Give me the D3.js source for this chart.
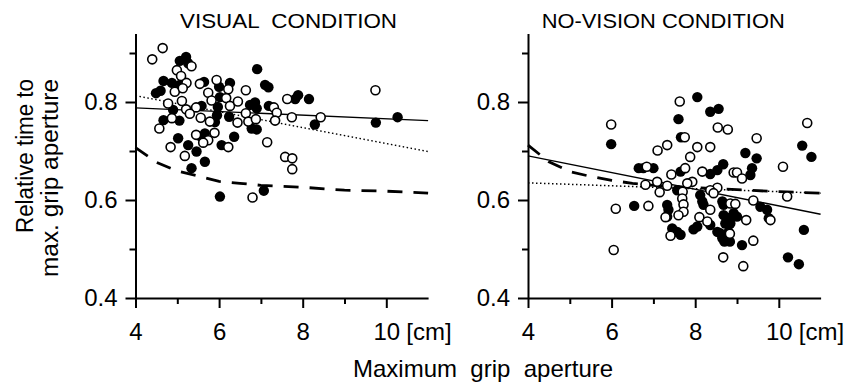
<!DOCTYPE html>
<html>
<head>
<meta charset="utf-8">
<script src="https://cdn.jsdelivr.net/npm/d3@7"></script>
<style>
  body { margin: 0; background: #fff; }
  svg { font-family: 'Liberation Sans', Arial, sans-serif; }
  text { white-space: pre; }
</style>
</head>
<body>
<svg id="chart" width="851" height="382"></svg>
<script>
// values: [aperture cm, relative time]
const visualOpen = [
  [4.65, 0.910], [4.40, 0.887], [4.99, 0.865], [5.34, 0.873], [5.09, 0.853], [5.22, 0.839],
  [4.94, 0.821], [5.13, 0.828], [5.54, 0.837], [5.74, 0.819], [5.94, 0.845], [5.82, 0.803],
  [5.11, 0.802], [4.78, 0.797], [5.21, 0.785], [5.45, 0.789], [5.30, 0.776], [5.56, 0.768],
  [4.87, 0.767], [4.57, 0.746], [5.78, 0.760], [5.45, 0.733], [5.89, 0.737], [5.74, 0.722],
  [5.62, 0.717], [4.84, 0.708], [5.18, 0.690], [6.22, 0.708], [6.22, 0.826], [6.17, 0.808],
  [6.26, 0.792], [6.45, 0.801], [6.64, 0.824], [6.44, 0.758], [6.64, 0.777], [6.70, 0.760],
  [6.88, 0.765], [7.15, 0.718], [7.31, 0.789], [7.38, 0.778], [7.34, 0.762], [7.63, 0.806],
  [7.74, 0.769], [8.43, 0.769], [9.74, 0.824], [7.58, 0.688], [7.75, 0.685], [7.75, 0.663],
  [6.80, 0.605]
];
const visualFilled = [
  [5.21, 0.892], [5.06, 0.884], [5.26, 0.879], [4.67, 0.843], [4.87, 0.839], [5.06, 0.835],
  [4.60, 0.823], [4.49, 0.818], [4.90, 0.784], [4.67, 0.763], [5.05, 0.762], [5.58, 0.792],
  [5.64, 0.841], [6.00, 0.831], [6.02, 0.810], [5.97, 0.790], [5.95, 0.773], [5.90, 0.759],
  [6.26, 0.839], [6.24, 0.770], [6.36, 0.729], [6.06, 0.712], [5.66, 0.736], [5.58, 0.728],
  [5.02, 0.726], [5.26, 0.712], [5.46, 0.699], [5.66, 0.678], [5.34, 0.665], [6.91, 0.867],
  [7.10, 0.835], [7.18, 0.830], [6.86, 0.799], [6.74, 0.794], [6.90, 0.787], [6.78, 0.746],
  [6.90, 0.744], [7.19, 0.792], [7.82, 0.806], [7.89, 0.814], [8.15, 0.806], [8.29, 0.754],
  [9.75, 0.758], [10.27, 0.769], [6.02, 0.607], [7.07, 0.619]
];
const noVisionOpen = [
  [5.99, 0.754], [7.63, 0.801], [7.75, 0.728], [7.33, 0.712], [7.10, 0.701], [7.88, 0.688],
  [8.05, 0.708], [8.36, 0.708], [8.54, 0.748], [8.78, 0.744], [9.47, 0.726], [10.68, 0.757],
  [10.10, 0.668], [10.20, 0.607], [6.84, 0.668], [7.76, 0.665], [8.17, 0.658], [7.43, 0.652],
  [8.92, 0.656], [9.00, 0.656], [9.12, 0.644], [7.09, 0.637], [6.81, 0.631], [7.33, 0.629],
  [7.15, 0.616], [7.93, 0.637], [7.81, 0.634], [7.70, 0.617], [7.69, 0.603], [7.72, 0.591],
  [7.72, 0.576], [7.60, 0.569], [7.29, 0.565], [7.41, 0.527], [8.10, 0.565], [8.29, 0.556],
  [8.36, 0.580], [8.53, 0.625], [8.36, 0.620], [8.44, 0.614], [8.84, 0.593], [8.96, 0.592],
  [9.39, 0.599], [9.22, 0.559], [8.83, 0.531], [9.39, 0.517], [8.67, 0.483], [9.15, 0.465],
  [9.80, 0.559], [6.10, 0.582], [6.05, 0.498], [6.88, 0.588]
];
const noVisionFilled = [
  [5.99, 0.714], [8.05, 0.810], [7.60, 0.765], [7.66, 0.728], [8.36, 0.780], [8.56, 0.786],
  [9.20, 0.696], [9.47, 0.685], [10.56, 0.711], [10.78, 0.688], [6.65, 0.665], [6.76, 0.665],
  [7.00, 0.665], [8.67, 0.673], [8.53, 0.661], [8.36, 0.653], [9.36, 0.665], [9.32, 0.651],
  [7.65, 0.658], [6.54, 0.588], [7.33, 0.590], [7.36, 0.580], [7.33, 0.566], [7.45, 0.542],
  [7.57, 0.535], [7.65, 0.529], [7.57, 0.620], [7.96, 0.540], [8.05, 0.546], [8.12, 0.610],
  [8.17, 0.597], [8.20, 0.590], [8.36, 0.549], [8.53, 0.535], [8.60, 0.532], [8.65, 0.522],
  [8.70, 0.515], [8.83, 0.515], [8.68, 0.569], [8.80, 0.563], [8.92, 0.573], [9.00, 0.566],
  [8.72, 0.552], [8.68, 0.590], [8.65, 0.597], [9.12, 0.508], [9.56, 0.586], [9.72, 0.580],
  [9.76, 0.563], [10.22, 0.483], [10.48, 0.469], [10.60, 0.539], [8.84, 0.552], [8.80, 0.535]
];

// regression / model lines
const visualSolid = [[4, 0.788], [11, 0.762]];
const visualDotted = [[4, 0.813], [11, 0.699]];
const visualDashed = [
  [4, 0.707], [4.5, 0.677], [5, 0.659], [5.5, 0.649], [6, 0.638], [6.5, 0.634],
  [7, 0.630], [8, 0.626], [9, 0.620], [10, 0.618], [11, 0.614]
];
const noVisionSolid = [[4, 0.690], [11, 0.571]];
const noVisionDotted = [[4, 0.635], [11, 0.614]];
const noVisionDashed = [
  [4, 0.712], [4.5, 0.678], [5, 0.658], [5.5, 0.648], [6, 0.640], [6.5, 0.634],
  [7, 0.630], [8, 0.625], [9, 0.621], [10, 0.617], [11, 0.614]
];

const xMajor = [4, 6, 8, 10];
const xMinor = [5, 7, 9];
const yMajor = [0.4, 0.6, 0.8];
const yMinor = [0.5, 0.7, 0.9];

const fontSize = 24,
  plotWidth = 292.6,
  yTop = 33.4,
  yBottom = 298;

const svg = d3.select('#chart');

const x = d3.scaleLinear().domain([4, 11]).range([0, plotWidth]);
const y = d3.scaleLinear().domain([0.4, 0.94]).range([yBottom, yTop]);

const line = d3
  .line()
  .x(d => x(d[0]))
  .y(d => y(d[1]));

function styleAxis(g) {
  g.attr('font-size', fontSize).attr('font-family', null);
  g.selectAll('path, line').attr('stroke', '#000').attr('stroke-width', 2);
  g.selectAll('text').attr('fill', '#000');
}

function drawPanel(p) {
  const g = svg.append('g').attr('transform', 'translate(' + p.left + ',0)');

  // minor ticks first, so the main axis line sits on top
  g.append('g')
    .attr('transform', 'translate(0,' + yBottom + ')')
    .call(d3.axisBottom(x).tickValues(xMinor).tickSize(6).tickFormat(''))
    .call(a => a.select('.domain').remove())
    .call(styleAxis);

  g.append('g')
    .call(d3.axisLeft(y).tickValues(yMinor).tickSize(6).tickFormat(''))
    .call(a => a.select('.domain').remove())
    .call(styleAxis);

  g.append('g')
    .attr('transform', 'translate(0,' + yBottom + ')')
    .call(
      d3
        .axisBottom(x)
        .tickValues(xMajor)
        .tickSize(10)
        .tickSizeOuter(0)
        .tickPadding(15)
        .tickFormat(d3.format('d'))
    )
    .call(styleAxis);

  g.append('g')
    .call(
      d3
        .axisLeft(y)
        .tickValues(yMajor)
        .tickSize(10)
        .tickSizeOuter(0)
        .tickPadding(8)
        .tickFormat(d3.format('.1f'))
    )
    .call(styleAxis);

  g.append('text')
    .attr('x', x(10) + 20)
    .attr('y', yBottom + 42)
    .attr('font-size', fontSize)
    .text('[cm]');

  // fitted lines
  g.append('path')
    .attr('d', line(p.dashed))
    .attr('fill', 'none')
    .attr('stroke', '#000')
    .attr('stroke-width', 2.8)
    .attr('stroke-dasharray', '15,11');

  g.append('path')
    .attr('d', line(p.dotted))
    .attr('fill', 'none')
    .attr('stroke', '#000')
    .attr('stroke-width', 1.5)
    .attr('stroke-dasharray', '1.5,2.5');

  g.append('path')
    .attr('d', line(p.solid))
    .attr('fill', 'none')
    .attr('stroke', '#000')
    .attr('stroke-width', 1.4);

  // points
  g.append('g')
    .selectAll('circle')
    .data(p.filled)
    .enter()
    .append('circle')
    .attr('cx', d => x(d[0]))
    .attr('cy', d => y(d[1]))
    .attr('r', 5.2)
    .attr('fill', '#000');

  g.append('g')
    .selectAll('circle')
    .data(p.open)
    .enter()
    .append('circle')
    .attr('cx', d => x(d[0]))
    .attr('cy', d => y(d[1]))
    .attr('r', 4.5)
    .attr('fill', '#fff')
    .attr('stroke', '#000')
    .attr('stroke-width', 1.6);

  svg.append('text')
    .attr('x', p.titleX)
    .attr('y', 28)
    .attr('font-size', 19.5)
    .attr('textLength', p.titleLen)
    .attr('lengthAdjust', 'spacingAndGlyphs')
    .text(p.title);
}

drawPanel({
  left: 135.5,
  title: 'VISUAL  CONDITION',
  titleX: 180,
  titleLen: 217,
  open: visualOpen,
  filled: visualFilled,
  solid: visualSolid,
  dotted: visualDotted,
  dashed: visualDashed
});

drawPanel({
  left: 528,
  title: 'NO-VISION CONDITION',
  titleX: 541.7,
  titleLen: 243,
  open: noVisionOpen,
  filled: noVisionFilled,
  solid: noVisionSolid,
  dotted: noVisionDotted,
  dashed: noVisionDashed
});

// axis titles
const yLabel = svg.append('g').attr('font-size', 23).attr('text-anchor', 'end');
yLabel.append('text')
  .attr('transform', 'translate(33,79) rotate(-90)')
  .attr('textLength', 154)
  .attr('lengthAdjust', 'spacingAndGlyphs')
  .text('Relative time to');
yLabel.append('text')
  .attr('transform', 'translate(58,79) rotate(-90)')
  .attr('textLength', 198)
  .attr('lengthAdjust', 'spacingAndGlyphs')
  .text('max. grip aperture');

svg.append('text')
  .attr('x', 353)
  .attr('y', 377)
  .attr('font-size', fontSize)
  .text('Maximum  grip  aperture');
</script>
</body>
</html>
